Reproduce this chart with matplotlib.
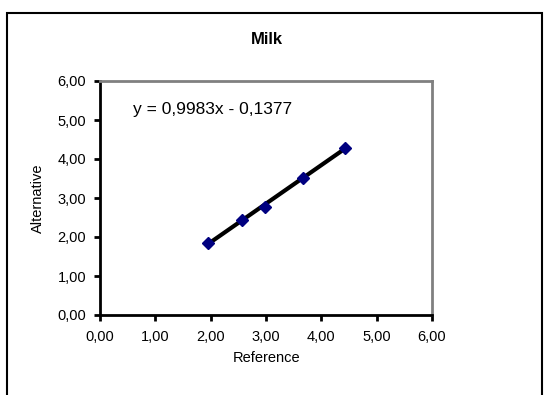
import numpy as np
import matplotlib
matplotlib.use('Agg')
import matplotlib.pyplot as plt
from matplotlib.patches import Rectangle
from matplotlib.ticker import FuncFormatter

plt.rcParams['font.family'] = ['Liberation Sans', 'DejaVu Sans']

# data
reference = [1.95, 2.57, 2.98, 3.67, 4.43]
alternative = [1.85, 2.43, 2.78, 3.52, 4.29]
ticks = [0, 1, 2, 3, 4, 5, 6]
title = 'Milk'
equation = 'y = 0,9983x - 0,1377'

fig = plt.figure(figsize=(5.44, 3.95), dpi=100)
# outer chart border
fig.patches.append(Rectangle((7 / 544, -0.1), 535 / 544, 1.1 - 13 / 395,
                             transform=fig.transFigure, fill=False,
                             edgecolor='black', linewidth=1.5, clip_on=False))

ax = fig.add_axes([100 / 544, 80 / 395, 332 / 544, 234 / 395])

slope, intercept = np.polyfit(reference, alternative, 1)
xs = np.array([min(reference), max(reference)])
ax.plot(xs, slope * xs + intercept, color='black', linewidth=3, zorder=2)
ax.plot(reference, alternative, linestyle='none', marker='D', markersize=6.5,
        color='#000080', zorder=3)

ax.set_xlim(0, 6)
ax.set_ylim(0, 6)
ax.set_xticks(ticks)
ax.set_yticks(ticks)
fmt = FuncFormatter(lambda v, p: f'{v:.2f}'.replace('.', ','))
ax.xaxis.set_major_formatter(fmt)
ax.yaxis.set_major_formatter(fmt)
ax.tick_params(direction='out', length=4, width=2, labelsize=10.5)
ax.tick_params(axis='x', pad=6.5)
ax.tick_params(axis='y', pad=6)

for s in ['left', 'bottom']:
    ax.spines[s].set_linewidth(2)
    ax.spines[s].set_color('black')
for s in ['top', 'right']:
    ax.spines[s].set_linewidth(2)
    ax.spines[s].set_color('#808080')

fig.text(267 / 544, 1 - 358 / 395, 'Reference', ha='center', va='center',
         fontsize=10.5)
fig.text(38 / 544, 1 - 198 / 395, 'Alternative', ha='center', va='center',
         fontsize=10.5, rotation=90)
fig.text(267 / 544, 1 - 40 / 395, title, ha='center', va='center',
         fontsize=12, fontweight='bold')
ax.text(0.6, 5.26, equation, fontsize=12.5, va='center', ha='left')

fig.savefig('out.png', dpi=100)
